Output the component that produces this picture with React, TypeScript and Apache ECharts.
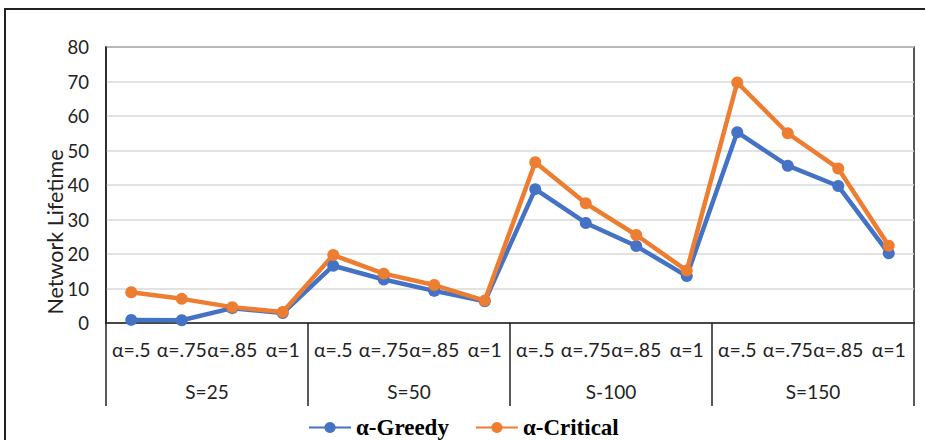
import React, { useEffect, useRef } from "react";
import * as echarts from "echarts";

const alphaLabels = ["α=.5", "α=.75", "α=.85", "α=1"];
const groupLabels = ["S=25", "S=50", "S-100", "S=150"];
const categories = groupLabels.flatMap(() => alphaLabels);
const greedy = [0.9, 0.8, 4.3, 2.9, 16.6, 12.6, 9.3, 6.3, 38.8, 29.0, 22.3, 13.6, 55.3, 45.6, 39.7, 20.2];
const critical = [8.9, 7.0, 4.6, 3.2, 19.7, 14.3, 11.0, 6.5, 46.6, 34.7, 25.5, 15.2, 69.7, 55.0, 44.8, 22.4];
const yTicks = { min: 0, max: 80, interval: 10 };

export default function App() {
  const ref = useRef<HTMLDivElement>(null);
  useEffect(() => {
    const chart = echarts.init(ref.current!, null, { renderer: "svg" });
    const sans = "Lato";
    chart.setOption({
      animation: false,
      backgroundColor: "#fff",
      grid: {
        left: 106,
        top: 47,
        right: 11,
        bottom: 117,
        show: true,
        borderColor: "#222",
        borderWidth: 1.5,
      },
      legend: {
        left: 303,
        top: 411,
        itemWidth: 42,
        itemHeight: 14,
        itemGap: 26,
        textStyle: { fontFamily: "Liberation Serif", fontWeight: "bold", fontSize: 23, color: "#000" },
        data: ["α-Greedy", "α-Critical"],
      },
      xAxis: [
        {
          type: "category",
          data: categories,
          position: "bottom",
          axisLine: { show: true, lineStyle: { color: "#222", width: 1.5 } },
          axisTick: { show: false },
          axisLabel: { interval: 0, margin: 16, fontFamily: sans, fontSize: 19.5, color: "#222", hideOverlap: false },
        },
        {
          type: "category",
          data: groupLabels,
          position: "bottom",
          axisLine: { show: false },
          axisTick: { show: true, length: 83, interval: 0, lineStyle: { color: "#222", width: 1.5 } },
          axisLabel: { interval: 0, margin: 59, fontFamily: sans, fontSize: 19, color: "#222" },
        },
      ],
      yAxis: {
        type: "value",
        min: yTicks.min,
        max: yTicks.max,
        interval: yTicks.interval,
        axisLine: { show: true, lineStyle: { color: "#222", width: 1.5 } },
        axisTick: { show: false },
        axisLabel: { margin: 17, fontFamily: sans, fontSize: 18.5, color: "#222" },
        splitLine: { lineStyle: { color: "#d9d9d9", width: 1.5 } },
      },
      graphic: [
        {
          type: "rect",
          shape: { x: 5, y: 9, width: 940, height: 460 },
          style: { fill: "none", stroke: "#222", lineWidth: 2 },
          silent: true,
          z: -1,
        },
        {
          type: "text",
          x: 55,
          y: 232,
          rotation: Math.PI / 2,
          style: {
            text: "Network Lifetime",
            fontFamily: sans,
            fontSize: 21.5,
            fill: "#222",
            align: "center",
            verticalAlign: "middle",
          },
        },
      ],
      series: [
        {
          name: "α-Greedy",
          type: "line",
          data: greedy,
          symbol: "circle",
          symbolSize: 12,
          lineStyle: { width: 4.5, color: "#4472C4" },
          itemStyle: { color: "#4472C4" },
        },
        {
          name: "α-Critical",
          type: "line",
          data: critical,
          symbol: "circle",
          symbolSize: 12,
          lineStyle: { width: 4.5, color: "#ED7D31" },
          itemStyle: { color: "#ED7D31" },
        },
      ],
    });
    return () => chart.dispose();
  }, []);
  return <div ref={ref} style={{ position: "fixed", left: 0, top: 0, width: 925, height: 440 }} />;
}
